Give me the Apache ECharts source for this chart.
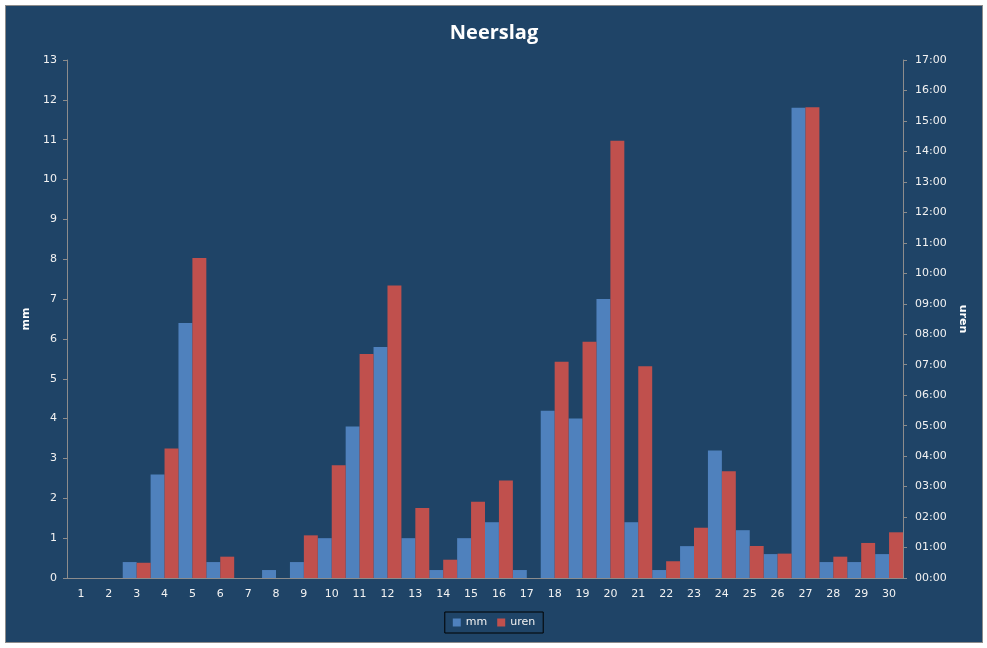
<!DOCTYPE html>
<html>
<head>
<meta charset="utf-8">
<title>Neerslag</title>
<script src="https://cdn.jsdelivr.net/npm/echarts@6/dist/echarts.min.js"></script>
<style>
  body { margin: 0; background: #ffffff; }
  #chart {
    position: absolute;
    left: 5px;
    top: 5px;
    width: 976px;
    height: 636px;
    border: 1px solid #8c8c8c;
  }
</style>
</head>
<body>
<div id="chart"></div>
<script>
// dagen van de maand
const days = ["1","2","3","4","5","6","7","8","9","10","11","12","13","14","15",
  "16","17","18","19","20","21","22","23","24","25","26","27","28","29","30"];

// neerslag in mm
const mm = [0, 0, 0.4, 2.6, 6.4, 0.4, 0, 0.2, 0.4, 1.0, 3.8, 5.8, 1.0, 0.2, 1.0,
  1.4, 0.2, 4.2, 4.0, 7.0, 1.4, 0.2, 0.8, 3.2, 1.2, 0.6, 11.8, 0.4, 0.4, 0.6];

// neerslagduur in uren (decimaal)
const uren = [0, 0, 0.5, 4.25, 10.5, 0.7, 0, 0, 1.4, 3.7, 7.35, 9.6, 2.3, 0.6, 2.5,
  3.2, 0, 7.1, 7.75, 14.35, 6.95, 0.55, 1.65, 3.5, 1.05, 0.8, 15.45, 0.7, 1.15, 1.5];

const textColor = "#f2f2f2";
const axisColor = "#8c8c8c";

const chart = echarts.init(document.getElementById("chart"));

chart.setOption({
  backgroundColor: "#1f4467",
  animation: false,
  textStyle: { fontFamily: "DejaVu Sans", color: textColor },

  title: {
    text: "Neerslag",
    left: "center",
    top: 12,
    textStyle: {
      color: "#ffffff",
      fontFamily: "Open Sans",
      fontWeight: "bold",
      fontSize: 20,
    },
  },

  legend: {
    data: ["mm", "uren"],
    left: "center",
    top: 606,
    icon: "rect",
    itemWidth: 8,
    itemHeight: 8,
    itemGap: 10,
    padding: [5, 8],
    borderColor: "#000000",
    borderWidth: 1,
    textStyle: { color: textColor, fontSize: 11, fontFamily: "DejaVu Sans" },
  },

  grid: {
    left: 61,
    right: 79,
    top: 54,
    bottom: 64,
  },

  xAxis: {
    type: "category",
    data: days,
    axisLine: { lineStyle: { color: axisColor } },
    axisTick: { length: 4, lineStyle: { color: axisColor } },
    axisLabel: { color: textColor, fontSize: 11, margin: 11 },
  },

  yAxis: [
    {
      type: "value",
      name: "mm",
      nameLocation: "middle",
      nameGap: 30,
      nameTextStyle: { color: "#ffffff", fontWeight: "bold", fontSize: 11 },
      min: 0,
      max: 13,
      interval: 1,
      axisLine: { show: true, lineStyle: { color: axisColor } },
      axisTick: { show: true, length: 4, lineStyle: { color: axisColor } },
      axisLabel: { color: textColor, fontSize: 11, margin: 10 },
      splitLine: { show: false },
    },
    {
      type: "value",
      name: "uren",
      nameLocation: "middle",
      nameGap: 44,
      nameRotate: -90,
      nameTextStyle: { color: "#ffffff", fontWeight: "bold", fontSize: 11 },
      min: 0,
      max: 17,
      interval: 1,
      position: "right",
      axisLine: { show: true, lineStyle: { color: axisColor } },
      axisTick: { show: true, length: 4, lineStyle: { color: axisColor } },
      axisLabel: {
        color: textColor,
        fontSize: 11,
        margin: 12,
        formatter: (v) => String(v).padStart(2, "0") + ":00",
      },
      splitLine: { show: false },
    },
  ],

  series: [
    {
      name: "mm",
      type: "bar",
      data: mm,
      yAxisIndex: 0,
      barGap: "0%",
      barCategoryGap: "0%",
      itemStyle: { color: "#4f81bd" },
    },
    {
      name: "uren",
      type: "bar",
      data: uren,
      yAxisIndex: 1,
      barGap: "0%",
      barCategoryGap: "0%",
      itemStyle: { color: "#c0504d" },
    },
  ],
});
</script>
</body>
</html>
